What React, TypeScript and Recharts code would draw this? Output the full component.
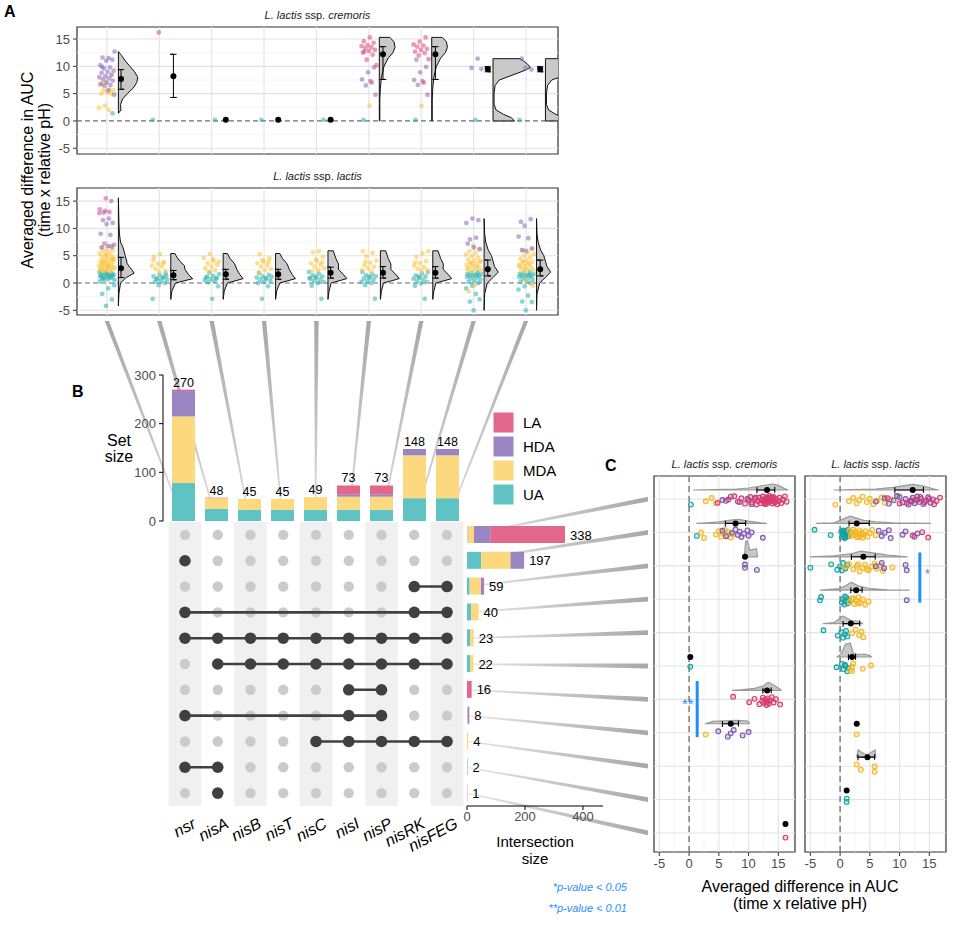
import React from "react";
import {
  ScatterChart,
  ComposedChart,
  Scatter,
  Bar,
  Line,
  XAxis,
  YAxis,
  ReferenceLine,
  ReferenceArea,
  LabelList,
} from "recharts";

type G = "UA" | "MDA" | "HDA" | "LA";
type PtRow = [number, G, number[]];
type Prof = [number, number][];

const FONT = "'Liberation Sans', Arial, Helvetica, sans-serif";

const GENES = ["nsr", "nisA", "nisB", "nisT", "nisC", "nisI", "nisP", "nisRK", "nisFEG"];
const GROUPS: G[] = ["UA", "MDA", "HDA", "LA"];
const LEGEND_ORDER: G[] = ["LA", "HDA", "MDA", "UA"];

const BAR_FILL: Record<G, string> = { LA: "#E3678C", HDA: "#9A84C2", MDA: "#FCD97E", UA: "#60C3C3" };
const A_FILL: Record<G, string> = { LA: "#E0457C", HDA: "#8B67BE", MDA: "#F9C33A", UA: "#2DB3B3" };
const C_FILL: Record<G, string> = { LA: "#D93A6F", HDA: "#7D56AE", MDA: "#F3B824", UA: "#17A2A2" };

// ---------- panel B: set sizes ----------
const SET_UA = [78, 25, 23, 23, 23, 23, 23, 47, 47];
const SET_MDA = [137, 22, 22, 22, 26, 27, 27, 88, 88];
const SET_HDA = [52, 0, 0, 0, 0, 5, 5, 13, 13];
const SET_LA = [3, 1, 0, 0, 0, 18, 18, 0, 0];
const SET_TOTAL = [270, 48, 45, 45, 49, 73, 73, 148, 148];

// ---------- panel B: intersections ----------
const INT_TOTAL = [338, 197, 59, 40, 23, 22, 16, 8, 4, 2, 1];
const INT_UA = [2, 49, 9, 14, 11, 11, 0, 0, 0, 2, 0];
const INT_MDA = [22, 101, 39, 26, 12, 11, 0, 2, 4, 0, 0];
const INT_HDA = [58, 47, 11, 0, 0, 0, 0, 6, 0, 0, 0];
const INT_LA = [256, 0, 0, 0, 0, 0, 16, 0, 0, 0, 1];
const INT_SETS: number[][] = [
  [], [0], [7, 8], [0, 7, 8], [0, 1, 2, 3, 4, 5, 6, 7, 8], [1, 2, 3, 4, 5, 6, 7, 8],
  [5, 6], [0, 5, 6], [4, 5, 6, 7, 8], [0, 1], [1],
];

// ---------- panel A: cremoris ----------
const A_CREM_PTS: PtRow[] = [
  [0, "HDA", [12.7, 11.5, 11.6, 11.2, 11.0, 10.2, 9.8, 9.6, 9.2, 9.0, 8.8, 8.4, 8.2, 8.0, 7.8, 7.6, 7.4, 7.0, 6.8, 6.6, 6.4, 4.8, 5.6, 9.9]],
  [0, "MDA", [8.6, 7.2, 6.6, 5.8, 5.6, 5.6, 5.2, 5.0, 5.0, 2.8, 2.4, 2.0, 6.8]],
  [0, "UA", [1.4]],
  [1, "LA", [16.2]],
  [1, "UA", [0.2]],
  [2, "UA", [0.2]],
  [3, "UA", [0.2]],
  [4, "UA", [0.2]],
  [5, "LA", [15.3, 14.6, 14.3, 13.9, 13.7, 13.5, 13.3, 13.0, 12.8, 12.5, 12.1, 11.2, 10.2, 7.3]],
  [5, "HDA", [12.7, 9.8, 8.9, 7.6, 7.0, 6.5, 4.8]],
  [5, "MDA", [2.8]],
  [5, "UA", [0.2]],
  [6, "LA", [15.3, 14.5, 14.0, 13.8, 13.6, 13.2, 13.0, 12.7, 12.4, 12.0, 11.3, 7.3]],
  [6, "HDA", [11.2, 9.9, 8.9, 7.5, 7.0, 6.6, 4.8]],
  [6, "MDA", [2.8]],
  [6, "UA", [0.2]],
  [7, "HDA", [11.4, 9.7, 9.5]],
  [7, "UA", [0.2]],
  [8, "HDA", [11.4, 9.4, 9.7]],
  [8, "UA", [0.2]],
];
const A_CREM_MEAN = [7.7, 8.2, 0.2, 0.2, 0.2, 12.2, 12.2, 9.5, 9.5];
const A_CREM_LO = [5.8, 4.3, 0.2, 0.2, 0.2, 7.6, 7.6, 9.0, 9.0];
const A_CREM_HI = [9.4, 12.2, 0.2, 0.2, 0.2, 13.6, 13.6, 9.9, 9.9];
const V_CREM_NSR: Prof = [[1.4, 0], [2, 0.05], [3, 0.04], [4, 0.08], [5, 0.17], [6, 0.28], [7, 0.35], [8, 0.37], [9, 0.31], [10, 0.22], [11, 0.13], [12, 0.06], [12.7, 0]];
const V_CREM_NISI: Prof = [[0, 0.01], [4, 0.01], [6, 0.02], [8, 0.04], [10, 0.09], [11.5, 0.17], [12.5, 0.26], [13.5, 0.3], [14.5, 0.28], [15.3, 0.2]];
const V_CREM_RK: Prof = [[0, 0.41], [0.6, 0.35], [1.2, 0.2], [2, 0.06], [3, 0.02], [5, 0.02], [6.5, 0.04], [7.5, 0.12], [8.5, 0.4], [9.3, 0.62], [9.8, 0.71], [10.4, 0.66], [11, 0.58], [11.4, 0.52]];
// [category, profile, edge offset]
const A_CREM_VIOLINS: [number, Prof, number][] = [
  [0, V_CREM_NSR, 0.22], [5, V_CREM_NISI, 0.2], [6, V_CREM_NISI, 0.2], [7, V_CREM_RK, 0.37], [8, V_CREM_RK, 0.37],
];

// ---------- panel A: lactis ----------
const A_LACT_PTS: PtRow[] = [
  [0, "UA", [0.5, 0.7, 0.8, 1.0, 1.1, 1.2, 1.3, 1.4, 1.5, 1.6, 1.7, 1.8, 1.9, 2.0, 1.2, 0.9, 1.5, 1.7, 1.3, 1.0, 0.6, -0.4, -1.0, -2.0, -3.0, -4.2, 0.3]],
  [0, "MDA", [2.1, 2.3, 2.5, 2.6, 2.8, 3.0, 3.1, 3.2, 3.4, 3.5, 3.7, 3.8, 4.0, 4.1, 4.3, 4.5, 4.6, 4.8, 5.0, 5.2, 5.4, 5.6, 5.8, 6.0, 6.2, 6.5, 6.8, 2.2, 2.9, 3.3, 3.6, 4.4, 5.1, 2.4, 2.7, 3.9, 4.2, 3.0, 2.5]],
  [0, "HDA", [15.0, 13.2, 12.8, 11.8, 11.5, 11.0, 10.8, 9.0, 8.8, 7.2, 7.0, 6.8, 6.5, 6.6]],
  [0, "LA", [15.5, 13.5, 13.0, 12.9]],
  [1, "UA", [1.8, 1.5, 1.2, 1.0, 0.8, 0.6, 0.4, 0.2, 0.0, -0.4, -2.9, 1.0, 0.7, 1.3]],
  [1, "MDA", [5.3, 4.8, 3.8, 3.5, 3.2, 3.0, 2.6, 2.2, 2.0, 4.2, 3.6]],
  [2, "UA", [1.9, 1.6, 1.3, 1.1, 0.9, 0.7, 0.5, 0.3, 0.1, -0.6, -2.9, 1.0, 0.8]],
  [2, "MDA", [5.3, 4.6, 4.0, 3.6, 3.3, 3.0, 2.7, 2.3, 2.1, 3.9, 4.4]],
  [3, "UA", [1.8, 1.5, 1.2, 1.0, 0.8, 0.6, 0.4, 0.2, 0.0, -0.6, -2.9, 1.1, 0.9]],
  [3, "MDA", [5.3, 4.5, 3.9, 3.6, 3.2, 3.0, 2.6, 2.3, 2.0, 3.8, 4.2]],
  [4, "UA", [2.0, 1.7, 1.4, 1.2, 1.0, 0.8, 0.6, 0.4, 0.2, 0.0, -0.5, -2.9, 1.1, 0.9]],
  [4, "MDA", [5.8, 5.6, 4.8, 4.0, 3.6, 3.3, 3.0, 2.7, 2.4, 2.1, 3.8, 4.3]],
  [5, "UA", [2.0, 1.6, 1.4, 1.2, 1.0, 0.8, 0.6, 0.4, 0.2, 0.0, -0.4, -2.9, 1.1]],
  [5, "MDA", [5.8, 5.5, 4.9, 4.1, 3.7, 3.3, 3.0, 2.7, 2.4, 2.1, 3.9]],
  [6, "UA", [2.0, 1.7, 1.4, 1.2, 1.0, 0.8, 0.6, 0.4, 0.2, -0.1, -0.5, -2.9, 1.1]],
  [6, "MDA", [5.8, 5.4, 4.8, 4.0, 3.6, 3.2, 2.9, 2.6, 2.3, 2.1, 3.8]],
  [7, "UA", [2.0, 1.8, 1.6, 1.5, 1.4, 1.3, 1.2, 1.1, 1.0, 0.8, 0.6, 0.4, 0.2, 0.0, -0.5, -1.0, -2.0, -3.4, -3.0, -5.0, 1.7, 1.5]],
  [7, "MDA", [2.1, 2.3, 2.5, 2.7, 2.9, 3.1, 3.3, 3.5, 3.7, 3.9, 4.1, 4.3, 4.6, 4.9, 5.2, 5.5, 5.8, 6.2, 6.8, 2.6, 3.0, 3.6, 4.0, -0.4, -1.5]],
  [7, "HDA", [11.5, 11.8, 11.0, 8.3, 8.0, 6.2, 6.5, 7.2]],
  [8, "UA", [2.0, 1.8, 1.6, 1.5, 1.4, 1.3, 1.2, 1.1, 1.0, 0.8, 0.6, 0.4, 0.2, 0.0, -0.6, -1.2, -2.3, -3.4, -3.5, -5.0, 1.7, 1.5]],
  [8, "MDA", [2.1, 2.3, 2.5, 2.7, 2.9, 3.1, 3.3, 3.5, 3.7, 3.9, 4.1, 4.4, 4.7, 5.0, 5.3, 5.6, 6.0, 6.3, 2.6, 3.0, 3.6, 4.0, -0.5, 0.5]],
  [8, "HDA", [11.2, 11.7, 10.5, 8.5, 8.2, 6.0, 6.3, 5.9]],
];
const A_LACT_MEAN = [2.7, 1.4, 1.6, 1.6, 1.9, 1.9, 1.9, 2.5, 2.5];
const A_LACT_LO = [1.0, 0.6, 0.7, 0.7, 0.9, 0.9, 0.9, 1.3, 1.3];
const A_LACT_HI = [4.7, 2.3, 2.5, 2.5, 2.9, 3.0, 3.0, 4.2, 4.2];
const V_LACT_NSR: Prof = [[-4.2, 0], [-2, 0.01], [0, 0.04], [1, 0.15], [1.8, 0.3], [2.5, 0.25], [3.5, 0.17], [5, 0.13], [6.5, 0.09], [7.5, 0.04], [9, 0.02], [11, 0.01], [15.6, 0]];
const V_LACT_NISA: Prof = [[-3, 0], [-1.5, 0.02], [0, 0.09], [0.8, 0.42], [1.5, 0.34], [2.5, 0.27], [3.2, 0.26], [4, 0.17], [5, 0.1], [5.4, 0.08]];
const V_LACT_NISB: Prof = [[-3, 0], [-1.5, 0.02], [0, 0.08], [0.8, 0.38], [1.5, 0.32], [2.5, 0.26], [3.5, 0.22], [4.5, 0.13], [5.4, 0.08]];
const V_LACT_NISC: Prof = [[-3, 0], [-1.5, 0.02], [0, 0.06], [0.8, 0.36], [1.5, 0.3], [2.5, 0.2], [3.5, 0.2], [4.5, 0.15], [5.9, 0.1]];
const V_LACT_RK: Prof = [[-5, 0], [-2, 0.01], [0, 0.06], [1, 0.17], [2, 0.27], [3, 0.2], [4, 0.17], [5, 0.14], [6, 0.08], [7.5, 0.03], [9, 0.01], [11.8, 0]];
const A_LACT_VIOLINS: [number, Prof, number][] = [
  [0, V_LACT_NSR, 0.22], [1, V_LACT_NISA, 0.22], [2, V_LACT_NISB, 0.22], [3, V_LACT_NISB, 0.22],
  [4, V_LACT_NISC, 0.22], [5, V_LACT_NISC, 0.22], [6, V_LACT_NISC, 0.22], [7, V_LACT_RK, 0.2], [8, V_LACT_RK, 0.2],
];

// ---------- panel C ----------
const C_CREM_PTS: PtRow[] = [
  [0, "UA", [0.3]],
  [0, "MDA", [2.8, 3.8, 4.5]],
  [0, "HDA", [5.6, 7.0, 8.5, 9.8, 10.5, 6.2, 11.2]],
  [0, "LA", [4.8, 6.6, 7.6, 8.2, 8.8, 9.4, 10.0, 10.3, 10.6, 11.0, 11.3, 11.6, 11.8, 12.0, 12.2, 12.4, 12.6, 12.8, 12.9, 13.0, 13.1, 13.2, 13.4, 13.5, 13.6, 13.8, 14.0, 14.1, 14.2, 14.4, 14.6, 14.8, 15.0, 15.2, 15.5, 15.8, 16.1, 16.4, 13.3, 12.7, 14.3, 13.9]],
  [1, "UA", [1.3]],
  [1, "MDA", [2.0, 2.5, 4.5, 5.0, 5.4, 5.8, 6.0, 6.4, 6.6, 7.0, 7.4]],
  [1, "HDA", [5.6, 6.2, 7.2, 7.8, 8.2, 8.5, 8.8, 9.2, 9.8, 10.0, 10.5, 12.4]],
  [2, "HDA", [9.4, 9.4, 11.4]],
  [5, "UA", [0.2]],
  [6, "LA", [7.4, 10.1, 11.0, 11.8, 12.3, 12.4, 12.6, 12.8, 13.0, 13.1, 13.2, 13.4, 13.6, 13.9, 14.2, 14.6, 15.3]],
  [7, "MDA", [2.8]],
  [7, "HDA", [4.9, 6.5, 7.0, 7.5, 9.0, 10.0]],
  [10, "LA", [16.2]],
];
const C_LACT_PTS: PtRow[] = [
  [0, "MDA", [-0.8, 1.5, 2.2, 2.8, 3.2, 3.8, 4.5, 5.0, 5.6, 6.2, 7.0, 7.5, 8.5, 9.5]],
  [0, "HDA", [6.0, 7.5, 8.2, 9.0, 10.0, 10.5, 11.0, 11.5, 11.8, 12.2, 12.5, 12.8, 13.0, 13.3, 13.6, 14.0, 14.4, 14.8, 15.2, 15.6, 9.6, 12.0]],
  [0, "LA", [8.0, 10.0, 12.0, 13.5, 14.2, 15.0, 15.8, 16.2, 16.8, 11.2, 13.0]],
  [1, "UA", [-4.3, -1.6, 0.2, 0.3, 0.4, 0.5, 0.6, 0.7, 0.8, 0.9, 1.0, 1.1, 1.2, 1.3, 1.4, 0.5, 0.8, 1.1]],
  [1, "MDA", [1.6, 1.8, 2.0, 2.2, 2.4, 2.6, 2.8, 3.0, 3.2, 3.4, 3.6, 3.8, 4.0, 4.3, 4.6, 5.0, 5.4, 6.0, 2.5, 3.1, 3.7]],
  [1, "HDA", [6.5, 7.0, 7.5, 8.5, 10.5, 11.0, 12.5, 13.0, 8.2]],
  [1, "LA", [12.2, 13.8, 14.8]],
  [2, "UA", [-5.0, -1.5, -0.5, 0.0, 0.5, 0.9, 1.2, 0.3]],
  [2, "MDA", [0.8, 1.5, 2.2, 2.8, 3.3, 3.8, 4.2, 4.8, 5.3, 5.8, 6.2, 6.8, 7.2, 8.8, 3.0, 4.5]],
  [2, "HDA", [6.0, 7.0, 7.4, 11.0, 11.2]],
  [3, "UA", [-3.4, -3.2, 0.3, 0.5, 0.7, 0.9, 1.1, 1.3, 1.5, 0.8]],
  [3, "MDA", [1.6, 2.0, 2.4, 2.8, 3.1, 3.4, 3.8, 4.2, 4.8, 2.2, 3.0]],
  [3, "HDA", [11.2]],
  [4, "UA", [-2.8, -0.4, 0.2, 0.5, 0.8, 1.0, 1.2]],
  [4, "MDA", [2.0, 2.6, 3.2, 3.6, 3.9]],
  [5, "UA", [-0.6, 0.3, 0.6, 0.9, 1.2, 1.4, 0.8]],
  [5, "MDA", [1.7, 2.0, 2.2, 3.8, 5.2, 2.0]],
  [7, "MDA", [2.8]],
  [8, "MDA", [2.8, 3.5, 5.8, 5.8]],
  [9, "UA", [1.1, 1.1]],
];
// [row, mean, low, high]
const C_CREM_STATS: [number, number, number, number][] = [
  [0, 13.1, 11.4, 14.4], [1, 7.8, 6.1, 9.5], [2, 9.4, 9.4, 9.4], [5, 0.2, 0.2, 0.2],
  [6, 13.1, 12.4, 13.8], [7, 7.0, 5.6, 8.3], [10, 16.2, 16.2, 16.2],
];
const C_LACT_STATS: [number, number, number, number][] = [
  [0, 12.2, 9.2, 14.0], [1, 2.8, 1.5, 4.9], [2, 3.9, 1.9, 5.9], [3, 2.7, 1.8, 3.7], [4, 1.8, 0.5, 3.3],
  [5, 2.0, 1.4, 2.6], [7, 2.8, 2.8, 2.8], [8, 4.6, 3.0, 5.8], [9, 1.1, 1.1, 1.1],
];
// [row, [x, height]]
const C_CREM_VIOLINS: [number, Prof][] = [
  [0, [[0.7, 0], [4, 0.01], [8, 0.03], [10, 0.06], [12, 0.12], [14.0, 0.18], [15, 0.14], [16, 0.05], [16.6, 0]]],
  [1, [[1.3, 0], [3, 0.02], [5, 0.05], [7, 0.1], [8.3, 0.12], [10, 0.07], [12, 0.02], [13, 0]]],
  [2, [[9.3, 0], [9.5, 0.45], [9.8, 0.48], [10.2, 0.2], [10.8, 0.22], [11.3, 0.25], [11.5, 0]]],
  [6, [[7.3, 0], [9, 0.02], [11, 0.06], [12.5, 0.14], [13.3, 0.24], [14.2, 0.16], [15.2, 0.05], [15.5, 0]]],
  [7, [[2.7, 0], [4, 0.07], [6, 0.09], [8, 0.1], [9.5, 0.09], [10, 0.07], [10.1, 0]]],
];
const C_LACT_VIOLINS: [number, Prof][] = [
  [0, [[-1, 0], [2, 0.01], [6, 0.03], [9, 0.08], [11, 0.14], [12.3, 0.17], [14, 0.12], [15.5, 0.04], [16.5, 0]]],
  [1, [[-4, 0], [-1, 0.02], [0.5, 0.13], [1.7, 0.22], [2.8, 0.16], [4, 0.09], [6, 0.05], [9, 0.02], [15.2, 0]]],
  [2, [[-5, 0], [-1, 0.03], [2, 0.1], [3.5, 0.17], [5.5, 0.12], [8, 0.05], [11.3, 0]]],
  [3, [[-3.3, 0], [0, 0.05], [1.2, 0.16], [1.9, 0.24], [3, 0.13], [5, 0.05], [8, 0.01], [11.6, 0]]],
  [4, [[-2.8, 0], [-1, 0.03], [0.5, 0.23], [1.2, 0.16], [2, 0.08], [3, 0.07], [3.8, 0]]],
  [5, [[-0.5, 0], [0.2, 0.1], [0.9, 0.38], [1.7, 0.42], [2.2, 0.12], [3, 0.07], [4, 0.09], [5, 0.05], [5.3, 0]]],
  [8, [[2.8, 0], [3.0, 0.22], [4, 0.1], [4.6, 0.08], [5.2, 0.14], [5.9, 0.22], [6.0, 0]]],
];

// ---------- layout ----------
const A_LEFT = 77;
const A_RIGHT = 558;
const A_XDOM: [number, number] = [-0.57, 8.61];
const CAT_TICKS = [0, 1, 2, 3, 4, 5, 6, 7, 8];
const C_XDOM: [number, number] = [-5.9, 17.8];
const C_YDOM: [number, number] = [-0.69, 10.57];
const ROWS = [0, 1, 2, 3, 4, 5, 6, 7, 8, 9, 10];

const jit = (k: number) => ((k * 0.6180339887 + 0.37) % 1) - 0.5;

function buildPoints(rows: PtRow[], g: G, horizontal: boolean) {
  const out: { x: number; y: number }[] = [];
  let k = 0;
  rows.forEach(([pos, grp, vals]) => {
    vals.forEach((v) => {
      k += 1;
      if (grp !== g) return;
      if (horizontal) out.push({ x: v, y: pos + 0.04 + jit(k) * 0.26 });
      else out.push({ x: pos + jit(k) * 0.3, y: v });
    });
  });
  return out;
}

function Poly(props: any) {
  const { points, pFill, pStroke, pWidth, pClosed, pOpacity } = props;
  if (!points || points.length < 2) return null;
  const d =
    points.map((p: any, i: number) => `${i ? "L" : "M"}${p.x},${p.y}`).join(" ") + (pClosed ? " Z" : "");
  return (
    <path
      d={d}
      fill={pFill || "none"}
      fillOpacity={pOpacity ?? 1}
      stroke={pStroke}
      strokeWidth={pWidth}
      strokeLinejoin="round"
    />
  );
}

const NoDot = () => null;

const makeDot = (r: number, fill: string, opacity: number, stroke = "none", sw = 0) => (p: any) =>
  p.cx == null ? null : (
    <circle cx={p.cx} cy={p.cy} r={r} fill={fill} fillOpacity={opacity} stroke={stroke} strokeWidth={sw} />
  );

function AFacet(props: {
  top: number;
  rows: PtRow[];
  mean: number[];
  lo: number[];
  hi: number[];
  violins: [number, Prof, number][];
  yDom: [number, number];
  ticks: boolean;
}) {
  const { top, rows, mean, lo, hi, violins, yDom, ticks } = props;
  return (
    <div style={{ position: "absolute", left: 0, top }}>
      <ScatterChart
        width={570}
        height={170}
        margin={{ top: ticks ? 28 : 27, right: 12, bottom: ticks ? 5 : 16, left: 0 }}
      >
        <XAxis
          type="number"
          dataKey="x"
          domain={A_XDOM}
          allowDataOverflow
          ticks={CAT_TICKS}
          interval={0}
          tick={false}
          tickSize={5}
          tickLine={{ stroke: "#333" }}
          axisLine={false}
          height={10}
          hide={!ticks}
        />
        <YAxis
          type="number"
          dataKey="y"
          domain={yDom}
          allowDataOverflow
          ticks={[-5, 0, 5, 10, 15]}
          interval={0}
          width={77}
          tickSize={4}
          tickMargin={3}
          axisLine={false}
          tickLine={{ stroke: "#333" }}
          tick={{ fontSize: 13, fill: "#4d4d4d" }}
        />
        {[-2.5, 2.5, 7.5, 12.5].map((v) => (
          <ReferenceLine key={"mi" + v} y={v} stroke="#F1F1F1" strokeWidth={0.8} />
        ))}
        {[-5, 5, 10, 15].map((v) => (
          <ReferenceLine key={"ma" + v} y={v} stroke="#E3E3E3" strokeWidth={1.1} />
        ))}
        {CAT_TICKS.map((v) => (
          <ReferenceLine key={"c" + v} x={v} stroke="#E3E3E3" strokeWidth={1.1} />
        ))}
        <ReferenceLine y={0} stroke="#6E6E6E" strokeWidth={1.2} strokeDasharray="5 3" />
        {violins.map(([cat, prof, edge], i) => {
          const x0 = cat + edge;
          const data = [
            { x: x0, y: prof[0][0] },
            ...prof.map(([y, w]) => ({ x: x0 + w, y })),
            { x: x0, y: prof[prof.length - 1][0] },
          ];
          return (
            <Scatter
              key={"v" + i}
              data={data}
              shape={NoDot}
              line={<Poly pFill="#C9C9C9" pStroke="#111" pWidth={1} pClosed />}
              isAnimationActive={false}
            />
          );
        })}
        {GROUPS.map((g) => (
          <Scatter
            key={g}
            data={buildPoints(rows, g, false)}
            shape={makeDot(2.4, A_FILL[g], 0.55)}
            isAnimationActive={false}
          />
        ))}
        {mean.map((m, i) => {
          if (hi[i] - lo[i] < 0.01) return null;
          const x = i + 0.27;
          const c = 0.06;
          const data = [
            { x: x - c, y: lo[i] }, { x: x + c, y: lo[i] }, { x, y: lo[i] },
            { x, y: hi[i] }, { x: x - c, y: hi[i] }, { x: x + c, y: hi[i] },
          ];
          return (
            <Scatter
              key={"e" + i}
              data={data}
              shape={NoDot}
              line={<Poly pStroke="#000" pWidth={1} />}
              isAnimationActive={false}
            />
          );
        })}
        <Scatter
          data={mean.map((m, i) => ({ x: i + 0.27, y: m }))}
          shape={makeDot(3, "#000", 1)}
          isAnimationActive={false}
        />
        <ReferenceArea
          x1={A_XDOM[0]}
          x2={A_XDOM[1]}
          y1={yDom[0]}
          y2={yDom[1]}
          fill="none"
          stroke="#333"
          strokeWidth={1.2}
        />
      </ScatterChart>
    </div>
  );
}

function CFacet(props: {
  left: number;
  rows: PtRow[];
  stats: [number, number, number, number][];
  violins: [number, Prof][];
  yTicks: boolean;
  sig: { x: number; y1: number; y2: number };
}) {
  const { left, rows, stats, violins, yTicks, sig } = props;
  return (
    <div style={{ position: "absolute", left, top: 460 }}>
      <ScatterChart
        width={160}
        height={420}
        margin={{ top: 16, right: 5, bottom: 8, left: yTicks ? 0 : 14 }}
      >
        <XAxis
          type="number"
          dataKey="x"
          domain={C_XDOM}
          allowDataOverflow
          ticks={[-5, 0, 5, 10, 15]}
          interval={0}
          tickSize={4}
          tickMargin={3}
          axisLine={false}
          tickLine={{ stroke: "#333" }}
          tick={{ fontSize: 13, fill: "#4d4d4d" }}
          height={20}
        />
        <YAxis
          type="number"
          dataKey="y"
          domain={C_YDOM}
          reversed
          allowDataOverflow
          ticks={ROWS}
          interval={0}
          tick={false}
          tickSize={5}
          tickLine={{ stroke: "#333" }}
          axisLine={false}
          width={14}
          hide={!yTicks}
        />
        {[-2.5, 2.5, 7.5, 12.5, 17.5].map((v) => (
          <ReferenceLine key={"mi" + v} x={v} stroke="#F1F1F1" strokeWidth={0.8} />
        ))}
        {[-5, 0, 5, 10, 15].map((v) => (
          <ReferenceLine key={"ma" + v} x={v} stroke="#E3E3E3" strokeWidth={1.1} />
        ))}
        {ROWS.map((r) => (
          <ReferenceLine key={"r" + r} y={r} stroke="#E3E3E3" strokeWidth={1.1} />
        ))}
        <ReferenceLine x={0} stroke="#6E6E6E" strokeWidth={1.3} strokeDasharray="6 4" />
        {violins.map(([row, prof], i) => {
          const b = row - 0.27;
          const data = [
            { x: prof[0][0], y: b },
            ...prof.map(([x, h]) => ({ x, y: b - h })),
            { x: prof[prof.length - 1][0], y: b },
          ];
          return (
            <Scatter
              key={"v" + i}
              data={data}
              shape={NoDot}
              line={<Poly pFill="#BDBDBD" pOpacity={0.85} pStroke="#9A9A9A" pWidth={1.2} pClosed />}
              isAnimationActive={false}
            />
          );
        })}
        {GROUPS.map((g) => (
          <Scatter
            key={g}
            data={buildPoints(rows, g, true)}
            shape={makeDot(2.4, C_FILL[g], 0.25, C_FILL[g], 1.1)}
            isAnimationActive={false}
          />
        ))}
        {stats.map(([row, , lo, hi], i) => {
          if (hi - lo < 0.01) return null;
          const b = row - 0.27;
          const c = 0.08;
          const data = [
            { x: lo, y: b - c }, { x: lo, y: b + c }, { x: lo, y: b },
            { x: hi, y: b }, { x: hi, y: b - c }, { x: hi, y: b + c },
          ];
          return (
            <Scatter
              key={"e" + i}
              data={data}
              shape={NoDot}
              line={<Poly pStroke="#000" pWidth={1.1} />}
              isAnimationActive={false}
            />
          );
        })}
        <Scatter
          data={stats.map(([row, m]) => ({ x: m, y: row - 0.27 }))}
          shape={makeDot(3, "#000", 1)}
          isAnimationActive={false}
        />
        <ReferenceLine
          segment={[{ x: sig.x, y: sig.y1 }, { x: sig.x, y: sig.y2 }]}
          stroke="#1E8FFF"
          strokeWidth={3}
        />
        <ReferenceArea
          x1={C_XDOM[0]}
          x2={C_XDOM[1]}
          y1={C_YDOM[0]}
          y2={C_YDOM[1]}
          fill="none"
          stroke="#333"
          strokeWidth={1.2}
        />
      </ScatterChart>
    </div>
  );
}

const setData = GENES.map((name, i) => ({
  name,
  UA: SET_UA[i],
  MDA: SET_MDA[i],
  HDA: SET_HDA[i],
  LA: SET_LA[i],
  total: SET_TOTAL[i],
}));

const intData = INT_TOTAL.map((total, j) => ({
  id: "r" + j,
  UA: INT_UA[j],
  MDA: INT_MDA[j],
  HDA: INT_HDA[j],
  LA: INT_LA[j],
  total,
}));

const matrixAll = ROWS.flatMap((r) => CAT_TICKS.map((c) => ({ x: c, y: r })));

const GeneTick = (p: any) => {
  const x = p.x + 12;
  const y = p.y + 21;
  return (
    <text
      x={x}
      y={y}
      textAnchor="end"
      fontSize={16}
      fontStyle="italic"
      fill="#000"
      transform={`rotate(-28, ${x}, ${y})`}
    >
      {GENES[p.payload.value]}
    </text>
  );
};

// connector geometry (matches chart positions above)
const aTickX = (i: number) => A_LEFT + ((i - A_XDOM[0]) / (A_XDOM[1] - A_XDOM[0])) * (A_RIGHT - A_LEFT);
const bColX = (i: number) => 183.5 + 33 * i;
const bRowY = (j: number) => 534.9 + 25.82 * j;
const cRowY = (j: number) => 476 + ((j - C_YDOM[0]) / (C_YDOM[1] - C_YDOM[0])) * 376;

const Strip = ({ x, y, sub }: { x: number; y: number; sub: string }) => (
  <text x={x} y={y} textAnchor="middle" fontSize={11} fill="#1a1a1a">
    <tspan fontStyle="italic">L. lactis</tspan>
    {" ssp. "}
    <tspan fontStyle="italic">{sub}</tspan>
  </text>
);

export default function App() {
  return (
    <div
      style={{
        position: "relative",
        width: 957,
        height: 925,
        background: "#fff",
        fontFamily: FONT,
        overflow: "hidden",
      }}
    >
      <style>{"body{margin:0}"}</style>
      {/* connectors behind everything */}
      <svg width={957} height={925} style={{ position: "absolute", left: 0, top: 0 }}>
        <defs>
          <linearGradient id="gAB" x1="0" y1="321" x2="0" y2="520" gradientUnits="userSpaceOnUse">
            <stop offset="0" stopColor="#A8A8A8" />
            <stop offset="1" stopColor="#DDDDDD" />
          </linearGradient>
          <linearGradient id="gBC" x1="467" y1="0" x2="648" y2="0" gradientUnits="userSpaceOnUse">
            <stop offset="0" stopColor="#E6E6E6" />
            <stop offset="1" stopColor="#A8A8A8" />
          </linearGradient>
        </defs>
        {GENES.map((g, i) => {
          const ax = aTickX(i);
          const bx = bColX(i);
          return (
            <polygon
              key={g}
              points={`${ax - 2.2},321 ${ax + 2.2},321 ${bx + 0.6},521 ${bx - 0.6},521`}
              fill="url(#gAB)"
            />
          );
        })}
        {INT_TOTAL.map((t, j) => {
          const yb = bRowY(j);
          const yc = cRowY(j);
          return (
            <polygon
              key={"bc" + j}
              points={`467,${yb - 0.6} 648,${yc - 2.4} 648,${yc + 2.4} 467,${yb + 0.6}`}
              fill="url(#gBC)"
            />
          );
        })}
      </svg>

      {/* panel A */}
      <AFacet
        top={0}
        rows={A_CREM_PTS}
        mean={A_CREM_MEAN}
        lo={A_CREM_LO}
        hi={A_CREM_HI}
        violins={A_CREM_VIOLINS}
        yDom={[-6.05, 17.2]}
        ticks={false}
      />
      <AFacet
        top={160}
        rows={A_LACT_PTS}
        mean={A_LACT_MEAN}
        lo={A_LACT_LO}
        hi={A_LACT_HI}
        violins={A_LACT_VIOLINS}
        yDom={[-5.86, 17.4]}
        ticks
      />

      {/* panel B: set size bars */}
      <div style={{ position: "absolute", left: 100, top: 360 }}>
        <ComposedChart width={370} height={175} data={setData} margin={{ top: 15, right: 5, bottom: 14, left: 0 }}>
          <XAxis dataKey="name" type="category" hide padding={{ left: 4, right: 1 }} />
          <YAxis
            type="number"
            domain={[0, 300]}
            ticks={[0, 100, 200, 300]}
            interval={0}
            width={63}
            axisLine={{ stroke: "#000" }}
            tickLine={{ stroke: "#000" }}
            tickSize={4}
            tickMargin={3}
            tick={{ fontSize: 13, fill: "#4d4d4d" }}
          />
          {GROUPS.map((g) => (
            <Bar key={g} dataKey={g} stackId="s" fill={BAR_FILL[g]} barSize={23} isAnimationActive={false} />
          ))}
          <Line dataKey="total" stroke="none" dot={false} activeDot={false} isAnimationActive={false}>
            <LabelList dataKey="total" position="top" offset={3} fontSize={12.5} fill="#000" />
          </Line>
        </ComposedChart>
      </div>

      {/* panel B: membership matrix */}
      <div style={{ position: "absolute", left: 160, top: 509 }}>
        <ScatterChart width={310} height={362} margin={{ top: 13, right: 6.6, bottom: 25, left: 8.6 }}>
          <XAxis
            type="number"
            dataKey="x"
            domain={[-0.5, 8.5]}
            allowDataOverflow
            ticks={CAT_TICKS}
            interval={0}
            axisLine={false}
            tickLine={false}
            tickSize={0}
            tickMargin={0}
            tick={GeneTick}
            height={40}
          />
          <YAxis type="number" dataKey="y" domain={[-0.5, 10.5]} reversed allowDataOverflow hide />
          {[0, 2, 4, 6, 8].map((c) => (
            <ReferenceArea
              key={"s" + c}
              x1={c - 0.5}
              x2={c + 0.5}
              y1={-0.5}
              y2={10.5}
              fill="#F0F0F0"
              fillOpacity={1}
              stroke="none"
            />
          ))}
          <Scatter data={matrixAll} shape={makeDot(5.2, "#CBCBCB", 1)} isAnimationActive={false} />
          {INT_SETS.map((cols, j) =>
            cols.length ? (
              <Scatter
                key={"m" + j}
                data={cols.map((c) => ({ x: c, y: j }))}
                line={{ stroke: "#404040", strokeWidth: 2.6 }}
                shape={makeDot(5.8, "#404040", 1)}
                isAnimationActive={false}
              />
            ) : null
          )}
        </ScatterChart>
      </div>

      {/* panel B: intersection size bars */}
      <div style={{ position: "absolute", left: 460, top: 509 }}>
        <ComposedChart
          layout="vertical"
          width={160}
          height={322}
          data={intData}
          margin={{ top: 13, right: 17, bottom: 3, left: 7 }}
        >
          <XAxis
            type="number"
            domain={[0, 469]}
            allowDataOverflow
            ticks={[0, 200, 400]}
            interval={0}
            axisLine={{ stroke: "#000" }}
            tickLine={{ stroke: "#000" }}
            tickSize={4}
            tickMargin={2}
            tick={{ fontSize: 13, fill: "#4d4d4d" }}
            height={22}
          />
          <YAxis type="category" dataKey="id" hide />
          {GROUPS.map((g) => (
            <Bar key={g} dataKey={g} stackId="s" fill={BAR_FILL[g]} barSize={17} isAnimationActive={false} />
          ))}
          <Line dataKey="total" stroke="none" dot={false} activeDot={false} isAnimationActive={false}>
            <LabelList dataKey="total" position="right" offset={5} fontSize={13} fill="#000" />
          </Line>
        </ComposedChart>
      </div>

      {/* panel C */}
      <CFacet
        left={640}
        rows={C_CREM_PTS}
        stats={C_CREM_STATS}
        violins={C_CREM_VIOLINS}
        yTicks
        sig={{ x: 1.36, y1: 5.45, y2: 7.13 }}
      />
      <CFacet
        left={791}
        rows={C_LACT_PTS}
        stats={C_LACT_STATS}
        violins={C_LACT_VIOLINS}
        yTicks={false}
        sig={{ x: 13.4, y1: 1.6, y2: 3.1 }}
      />

      {/* texts on top */}
      <svg
        width={957}
        height={925}
        style={{ position: "absolute", left: 0, top: 0, pointerEvents: "none" }}
        fontFamily={FONT}
      >
        <text x={4} y={17} fontSize={16} fontWeight="bold">A</text>
        <text x={72} y={397} fontSize={16} fontWeight="bold">B</text>
        <text x={605} y={471} fontSize={16} fontWeight="bold">C</text>

        <Strip x={317.5} y={19} sub="cremoris" />
        <Strip x={317.5} y={180} sub="lactis" />
        <Strip x={724.5} y={468} sub="cremoris" />
        <Strip x={875.5} y={468} sub="lactis" />

        <text transform="rotate(-90)" x={-170} y={33} textAnchor="middle" fontSize={16} fill="#000">
          Averaged difference in AUC
        </text>
        <text transform="rotate(-90)" x={-170} y={50} textAnchor="middle" fontSize={16} fill="#000">
          (time x relative pH)
        </text>

        <text x={119} y={446} textAnchor="middle" fontSize={16}>Set</text>
        <text x={119} y={462} textAnchor="middle" fontSize={16}>size</text>

        {LEGEND_ORDER.map((g, i) => (
          <g key={g}>
            <rect x={493} y={412 + 24 * i} width={21} height={21} fill={BAR_FILL[g]} stroke="#fff" strokeWidth={1} />
            <text x={523} y={428 + 24 * i} fontSize={15}>{g}</text>
          </g>
        ))}

        <text x={535} y={847} textAnchor="middle" fontSize={15}>Intersection</text>
        <text x={535} y={864} textAnchor="middle" fontSize={15}>size</text>

        <text x={800} y={892} textAnchor="middle" fontSize={16}>Averaged difference in AUC</text>
        <text x={800} y={909} textAnchor="middle" fontSize={16}>(time x relative pH)</text>

        <text x={682} y={709} fontSize={15} fill="#1E8FFF">**</text>
        <text x={925} y={578} fontSize={12} fill="#1E8FFF">*</text>

        <text x={627} y={891} textAnchor="end" fontSize={11} fontStyle="italic" fill="#1E8FFF">
          *p-value &lt; 0.05
        </text>
        <text x={627} y={912} textAnchor="end" fontSize={11} fontStyle="italic" fill="#1E8FFF">
          **p-value &lt; 0.01
        </text>
      </svg>
    </div>
  );
}
